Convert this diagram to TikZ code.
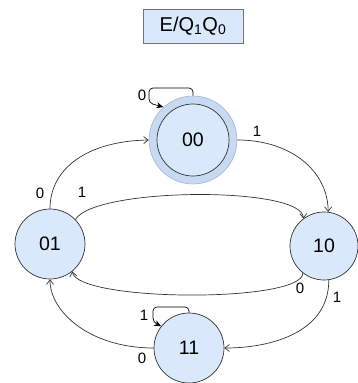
\documentclass[tikz,border=0pt]{standalone}
\usepackage{fontspec}
\setmainfont{Liberation Sans}
\usetikzlibrary{arrows.meta}
\definecolor{stfill}{HTML}{DAE8FC}
\definecolor{ringfill}{HTML}{C8DAF1}
\definecolor{ringdraw}{HTML}{9FB6D6}
\definecolor{linec}{HTML}{333333}
\tikzset{
  state/.style={circle, draw=linec, fill=stfill, line width=0.7pt, minimum size=70pt, inner sep=0pt, font=\fontsize{19.5}{21}\selectfont},
  ring/.style={circle, draw=ringdraw, fill=ringfill, line width=0.6pt, minimum size=88pt, inner sep=0pt},
  edge/.style={draw=linec, line width=0.7pt, -{Straight Barb[length=4.5pt,width=7pt]}},
  loopedge/.style={draw=black, line width=0.7pt, rounded corners=4pt, -{Stealth[length=7pt,width=6pt]}},
  lbl/.style={font=\fontsize{15}{17}\selectfont, inner sep=0pt},
  titlebox/.style={rectangle, draw=black!55, fill=stfill, line width=0.5pt, minimum width=100pt, minimum height=34pt, inner sep=0pt, font=\fontsize{20}{22}\selectfont}
}
\begin{document}
\begin{tikzpicture}[x=1pt, y=-1pt]
\useasboundingbox (0,0) rectangle (358,383);
\node[titlebox] (title) at (193,26) {E/Q\textsubscript{1}Q\textsubscript{0}};

\node[ring] (s00o) at (193,140) {};
\node[state, minimum size=72pt] (s00) at (193,140) {00};
\node[state] (s01) at (50,244) {01};
\node[state, minimum size=68pt] (s10) at (324,246) {10};
\node[state] (s11) at (189,348) {11};

% self loops
\coordinate (l00a) at (193,88);
\coordinate (l00b) at (149,88);
\coordinate (l00c) at (149,103);
\draw[loopedge] (s00o.north) -- (l00a) -- (l00b) -- (l00c) -- (s00o.132);
\coordinate (l11a) at (189,307);
\coordinate (l11b) at (153,307);
\coordinate (l11c) at (153,322);
\draw[loopedge] (s11.north) -- (l11a) -- (l11b) -- (l11c) -- (s11.142);

% transitions
\draw[edge] (s01.north) .. controls (50,168) and (88,141) .. (s00o.west);
\draw[edge] (s00o.east) .. controls (292,140) and (328,172) .. (s10.83);
\draw[edge] (s01.44) .. controls (95,187) and (303,186) .. (s10.127);
\draw[edge] (s10.232) .. controls (303,303) and (78,302) .. (s01.309);
\draw[edge] (s10.278) .. controls (329,332) and (272,348) .. (s11.east);
\draw[edge] (s11.west) .. controls (90,348) and (50,312) .. (s01.south);

% labels
\node[lbl] (t1) at (142,95) {0};
\node[lbl] (t2) at (40,193) {0};
\node[lbl] (t3) at (82,192) {1};
\node[lbl] (t4) at (257,131) {1};
\node[lbl] (t5) at (300,288) {0};
\node[lbl] (t6) at (337,297) {1};
\node[lbl] (t7) at (144,315) {1};
\node[lbl] (t8) at (142,358) {0};
\end{tikzpicture}
\end{document}
